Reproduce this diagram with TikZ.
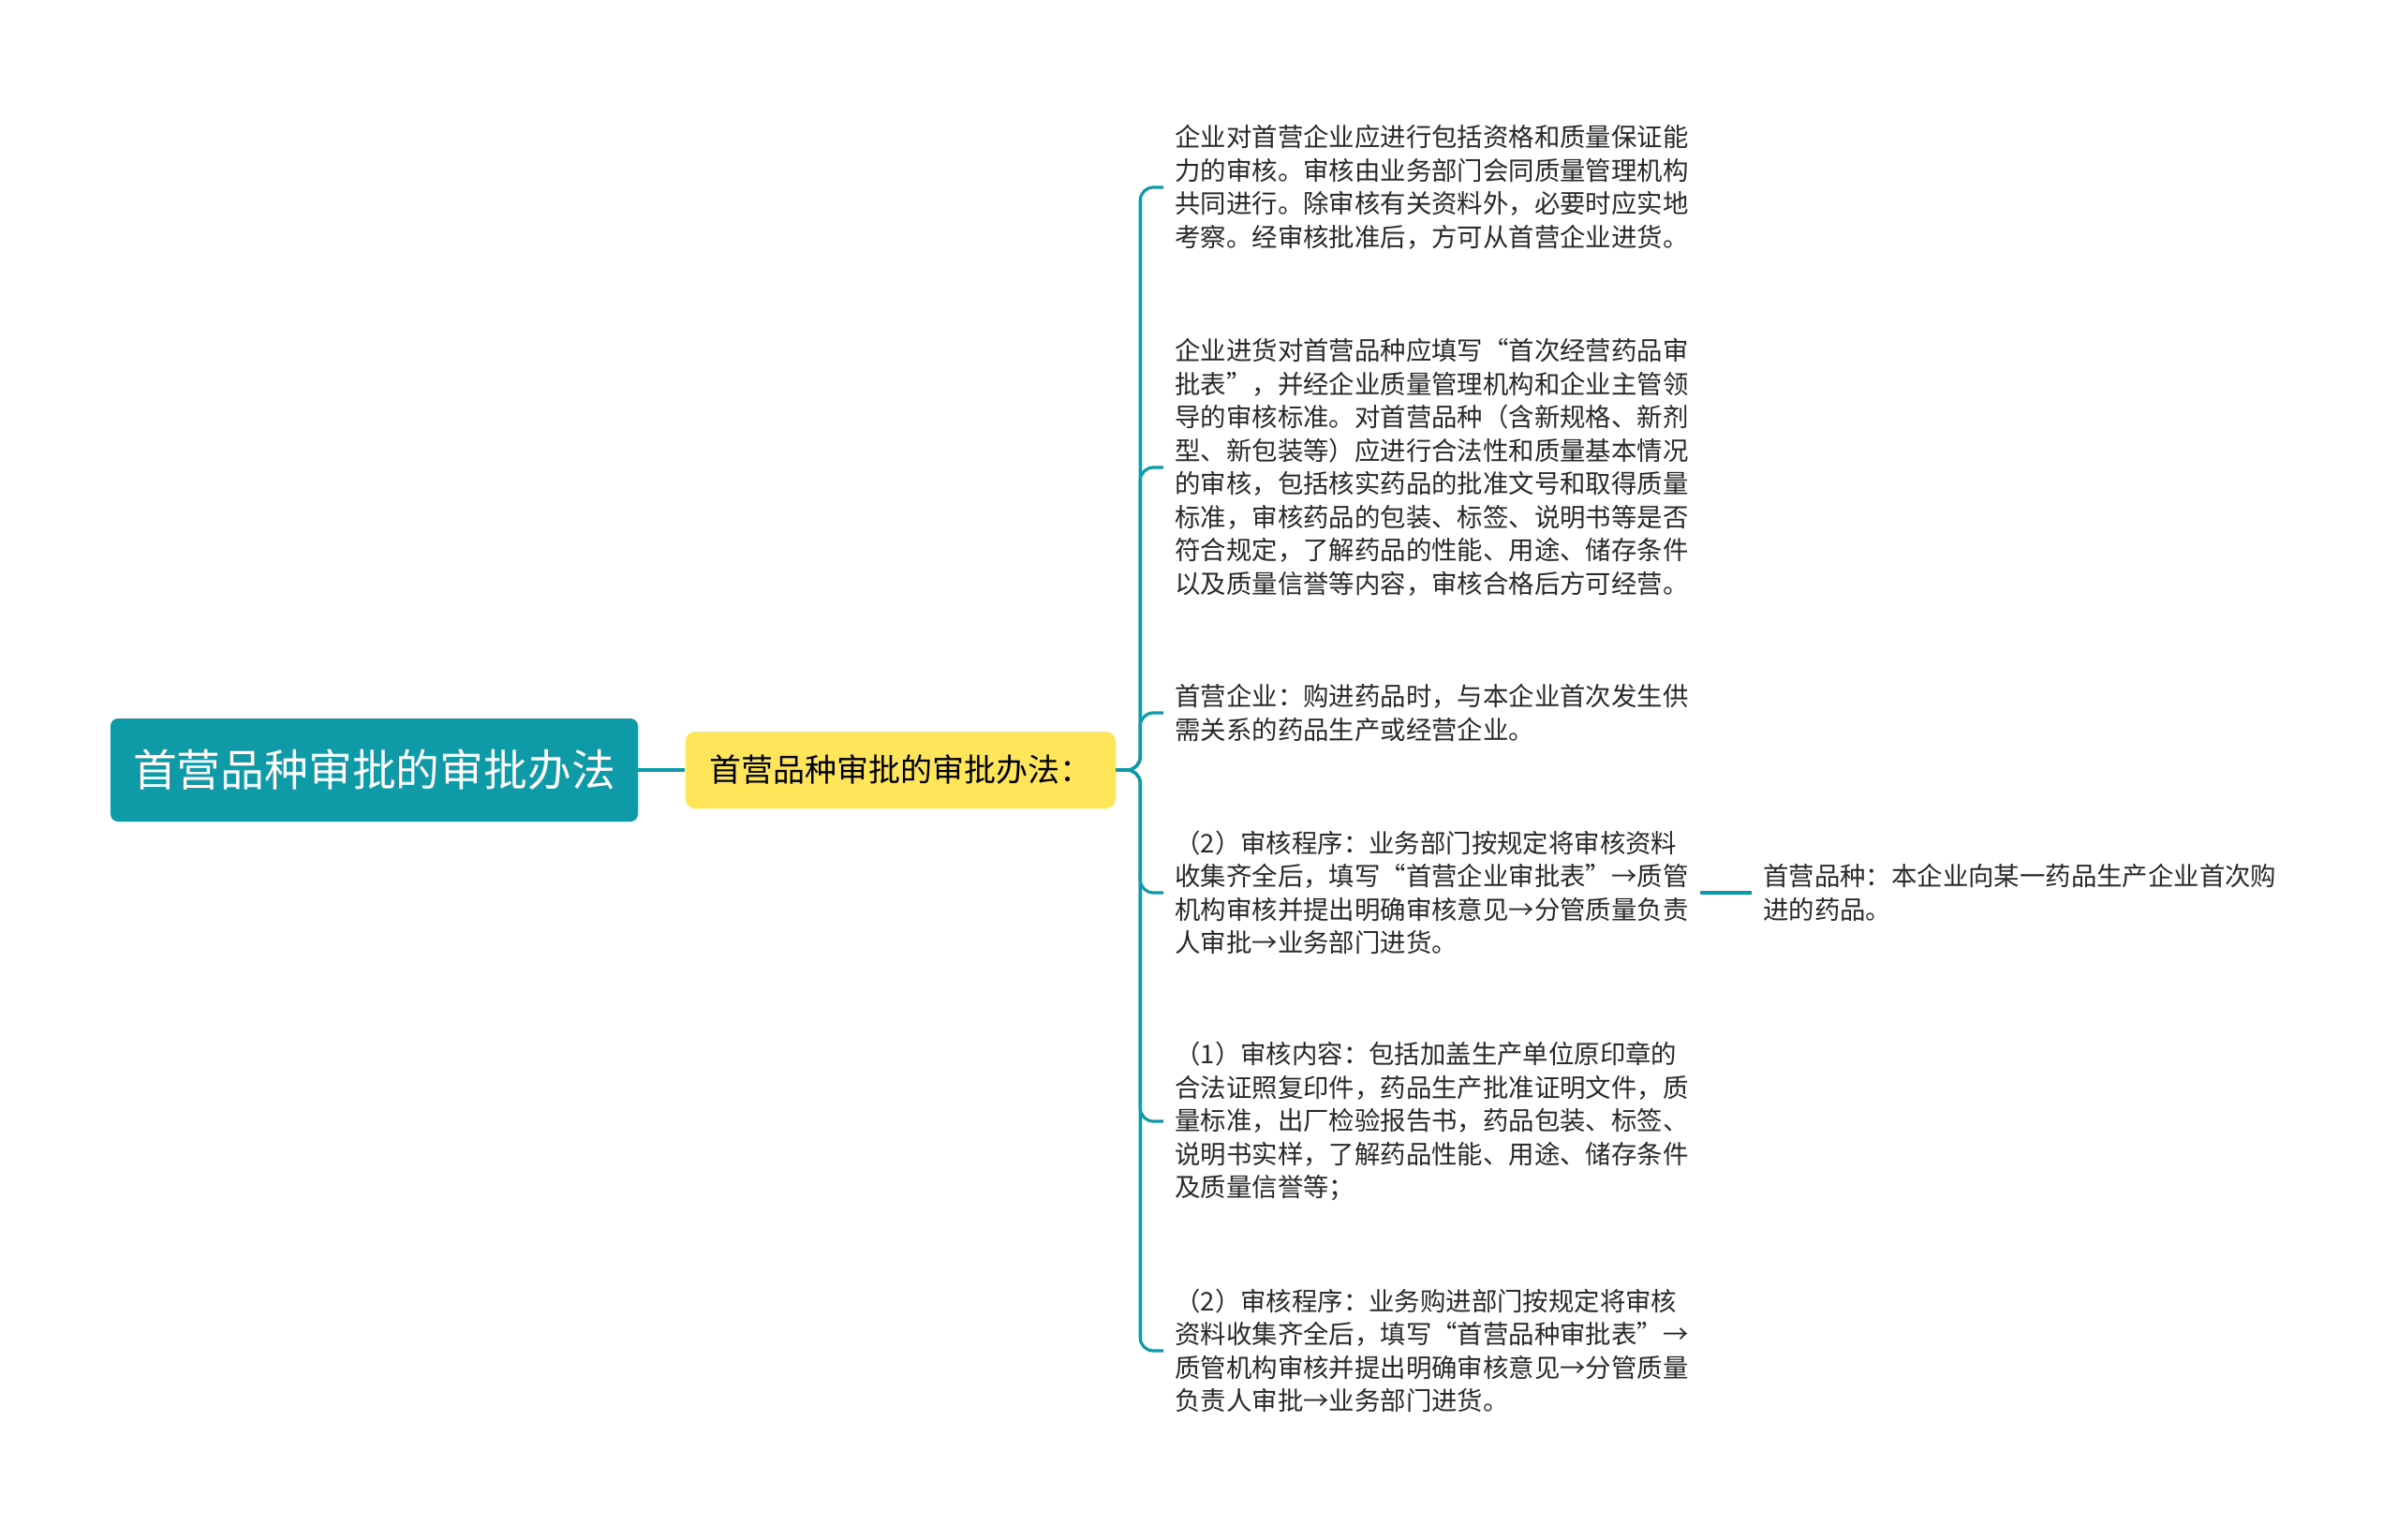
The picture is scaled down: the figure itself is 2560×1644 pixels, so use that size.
\documentclass[tikz,border=0pt]{standalone}
\usepackage{fontspec}
\setmainfont{Noto Sans CJK SC}
\usepackage{tikz}
\usetikzlibrary{positioning}

\definecolor{tealmain}{RGB}{15,154,167}
\definecolor{hubyellow}{RGB}{255,229,90}
\definecolor{leaftext}{RGB}{40,40,40}

\begin{document}
\begin{tikzpicture}[
  x=0.5pt, y=-0.5pt,
  rootbox/.style={rectangle, rounded corners=4pt, fill=tealmain, text=white,
    minimum width=281.5pt, minimum height=55pt, font=\fontsize{23.4pt}{28pt}\selectfont},
  hubbox/.style={rectangle, rounded corners=5pt, fill=hubyellow, text=black,
    minimum width=229.5pt, minimum height=41pt, font=\fontsize{17pt}{20pt}\selectfont},
  leaf/.style={anchor=west, inner sep=6pt, text width=274pt, align=left, text=leaftext,
    font=\fontsize{13.7pt}{17.75pt}\selectfont},
  link/.style={draw=tealmain, line width=1.6pt, rounded corners=7pt}
]
\useasboundingbox (0,0) rectangle (2560,1644);

\node[rootbox] (root) at (399.5,822) {首营品种审批的审批办法};
\node[hubbox, right=25pt of root] (hub) {首营品种审批的审批办法：};

\node[leaf] (firm) at (1242,200) {企业对首营企业应进行包括资格和质量保证能\\力的审核。审核由业务部门会同质量管理机构\\共同进行。除审核有关资料外，必要时应实地\\考察。经审核批准后，方可从首营企业进货。};
\node[leaf] (kind) at (1242,499) {企业进货对首营品种应填写“首次经营药品审\\批表”，并经企业质量管理机构和企业主管领\\导的审核标准。对首营品种（含新规格、新剂\\型、新包装等）应进行合法性和质量基本情况\\的审核，包括核实药品的批准文号和取得质量\\标准，审核药品的包装、标签、说明书等是否\\符合规定，了解药品的性能、用途、储存条件\\以及质量信誉等内容，审核合格后方可经营。};
\node[leaf] (firmdef) at (1242,761) {首营企业：购进药品时，与本企业首次发生供\\需关系的药品生产或经营企业。};
\node[leaf] (firmproc) at (1242,953) {（2）审核程序：业务部门按规定将审核资料\\收集齐全后，填写“首营企业审批表”→质管\\机构审核并提出明确审核意见→分管质量负责\\人审批→业务部门进货。};
\node[leaf] (content) at (1242,1197) {（1）审核内容：包括加盖生产单位原印章的\\合法证照复印件，药品生产批准证明文件，质\\量标准，出厂检验报告书，药品包装、标签、\\说明书实样，了解药品性能、用途、储存条件\\及质量信誉等；};
\node[leaf] (kindproc) at (1242,1442) {（2）审核程序：业务购进部门按规定将审核\\资料收集齐全后，填写“首营品种审批表”→\\质管机构审核并提出明确审核意见→分管质量\\负责人审批→业务部门进货。};
\node[leaf, right=27.5pt of firmproc] (kinddef) {首营品种：本企业向某一药品生产企业首次购\\进的药品。};

% connectors
\draw[link] (root) -- (hub);
\foreach \leafname in {firm, kind, firmdef, firmproc, content, kindproc}
  \draw[link] (hub.east) -- ++(13pt,0) |- (\leafname.west);
\draw[link] (firmproc.east) -- (kinddef.west);

\end{tikzpicture}
\end{document}
